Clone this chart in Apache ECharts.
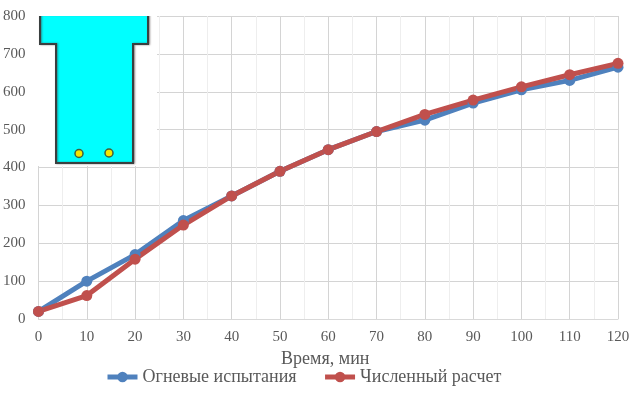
<!DOCTYPE html>
<html><head><meta charset="utf-8">
<style>html,body{margin:0;padding:0;background:#fff}#c{width:634px;height:394px}</style>
<script src="https://cdn.jsdelivr.net/npm/echarts@6/dist/echarts.min.js"></script>
</head><body><div id="c"></div>
<script>
const times = [0,10,20,30,40,50,60,70,80,90,100,110,120];
const fireTest = [20,100,170,260,325,390,447,495,525,570,605,630,665];
const numeric = [20,62,158,248,325,390,447,495,540,578,613,645,675];
const seriesNames = ['Огневые испытания','Численный расчет'];
const xTitle = 'Время, мин';
const font = '"Liberation Serif"';
const chart = echarts.init(document.getElementById('c'));
const pairs = v => times.map((t,i)=>[t,v[i]]);
const mk = (name,vals,color)=>({name,type:'line',data:pairs(vals),symbol:'circle',symbolSize:11,
  lineStyle:{width:5,color},itemStyle:{color},emphasis:{disabled:true}});
chart.setOption({
  animation:false,
  backgroundColor:'#fff',
  grid:{left:38,right:16,top:16,bottom:75},
  xAxis:{type:'value',min:0,max:120,interval:10,
    name:xTitle,nameLocation:'middle',nameGap:25,
    nameTextStyle:{fontFamily:font,fontSize:18,color:'#595959',padding:[0,6,0,0]},
    axisLabel:{fontFamily:font,fontSize:15,color:'#595959',margin:11},
    axisLine:{show:true,onZero:false,lineStyle:{color:'#d9d9d9',width:1}},axisTick:{show:false},
    splitLine:{show:true,lineStyle:{color:'#d4d4d4',width:1}},
    minorTick:{show:false,splitNumber:2},
    minorSplitLine:{show:true,lineStyle:{color:'#eeeeee',width:1}}},
  yAxis:{type:'value',min:0,max:800,interval:100,
    axisLabel:{fontFamily:font,fontSize:15,color:'#595959',margin:13},
    axisLine:{show:false},axisTick:{show:false},
    splitLine:{show:true,lineStyle:{color:'#d4d4d4',width:1}}},
  legend:{bottom:3,left:100,itemWidth:30,itemHeight:13,itemGap:26,
    lineStyle:{width:5},
    textStyle:{fontFamily:font,fontSize:18,color:'#595959'},data:seriesNames},
  series:[mk(seriesNames[0],fireTest,'#4f81bd'),mk(seriesNames[1],numeric,'#c0504d')],
  graphic:[
    {type:'rect',silent:true,z:10,shape:{x:37,y:15,width:120,height:151},style:{fill:'#fff'}},
    {type:'polygon',silent:true,z:11,shape:{points:[[40,14],[40,44],[56,44],[56,163],[133,163],[133,44],[148,44],[148,14]]},
      style:{fill:'#00ffff',stroke:'#3a3f3f',lineWidth:2,shadowBlur:2,shadowColor:'rgba(60,40,40,.5)',shadowOffsetX:1}},
    {type:'rect',silent:true,z:12,shape:{x:37,y:0,width:125,height:16},style:{fill:'#fff'}},
    {type:'circle',silent:true,z:13,shape:{cx:79,cy:153.5,r:4},style:{fill:'#f5e600',stroke:'#3f5f3f',lineWidth:1.5}},
    {type:'circle',silent:true,z:13,shape:{cx:109,cy:153,r:4},style:{fill:'#f5e600',stroke:'#3f5f3f',lineWidth:1.5}}
  ]
});
</script></body></html>
